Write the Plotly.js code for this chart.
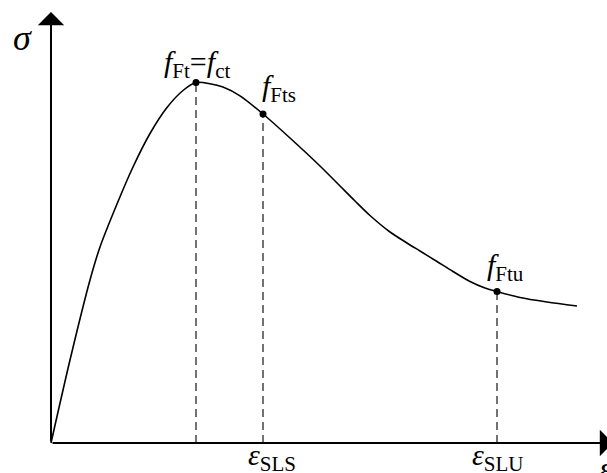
<!DOCTYPE html>
<html>
<head>
<meta charset="utf-8">
<script src="https://cdn.plot.ly/plotly-3.0.1.min.js"></script>
<style>html,body{margin:0;padding:0;background:#fff;}</style>
</head>
<body>
<div id="chart" style="width:607px;height:473px;"></div>
<script>
// Stress-strain curve (arbitrary units)
const strain = [0, 1.9, 3.9, 4.9, 6.6, 8.2, 9.9, 11.6, 13.2, 14.5, 15.9, 17.2, 18.9, 21.2, 23.9, 26.9, 28.9, 30.4, 31.9, 33.9, 35.6, 36.9, 38.6, 40.2, 41.9, 43.4, 44.6, 46.9, 49.6, 52.6];
const stress = [0, 8.3, 16.3, 19.6, 23.9, 27.6, 30.95, 33.55, 35.25, 36.05, 35.93, 35.59, 34.71, 32.9, 30.5, 27.7, 25.7, 24.2, 22.75, 21.1, 20.0, 19.2, 18.15, 17.15, 16.15, 15.5, 15.15, 14.55, 14.1, 13.7];
// Key points: f_Ft = f_ct, f_Fts, f_Ftu
const keyStrain = [14.5, 21.2, 44.6];
const keyStress = [36.05, 32.9, 15.15];
const keyLabels = ['<i>f</i><sub>Ft</sub>=<i>f</i><sub>ct</sub>', '<i>f</i><sub>Fts</sub>', '<i>f</i><sub>Ftu</sub>'];
const strainLabels = ['<i>ε</i><sub>SLS</sub>', '<i>ε</i><sub>SLU</sub>'];

const FONT = 'Liberation Serif, Times New Roman, serif';

const traces = [];
// dashed drop lines
keyStrain.forEach((x, i) => {
  traces.push({x: [x, x], y: [0, keyStress[i]], mode: 'lines',
    line: {color: '#000', width: 1.1, dash: '8px,5px'}, hoverinfo: 'skip', showlegend: false});
});
traces.push({x: strain, y: stress, mode: 'lines', line: {color: '#000', width: 1.6, shape: 'spline', smoothing: 0.8}, showlegend: false});
traces.push({x: keyStrain, y: keyStress, mode: 'markers', marker: {color: '#000', size: 7}, showlegend: false});

const annotations = [
  // axes arrows
  {x: 56.2, y: 0, ax: 0, ay: 0, xref: 'x', yref: 'y', axref: 'x', ayref: 'y', showarrow: true, arrowhead: 1, arrowsize: 2.2, arrowwidth: 2, arrowcolor: '#000', text: ''},
  {x: 0, y: 43.1, ax: 0, ay: 0, xref: 'x', yref: 'y', axref: 'x', ayref: 'y', showarrow: true, arrowhead: 1, arrowsize: 2.2, arrowwidth: 2, arrowcolor: '#000', text: ''},
  // axis symbols
  {x: -2.9, y: 40.5, xref: 'x', yref: 'y', showarrow: false, text: '<i>σ</i>', font: {family: FONT, size: 36, color: '#000'}},
  {x: 54.6, y: -2.5, xref: 'x', yref: 'y', showarrow: false, xanchor: 'left', text: '<i>ε</i>', font: {family: FONT, size: 34, color: '#000'}},
  // point labels
  {x: 14.6, y: 37.9, xref: 'x', yref: 'y', showarrow: false, text: keyLabels[0], font: {family: FONT, size: 30, color: '#000'}},
  {x: 22.8, y: 35.5, xref: 'x', yref: 'y', showarrow: false, text: keyLabels[1], font: {family: FONT, size: 30, color: '#000'}},
  {x: 45.4, y: 17.6, xref: 'x', yref: 'y', showarrow: false, text: keyLabels[2], font: {family: FONT, size: 30, color: '#000'}},
  // strain labels
  {x: 22.1, y: -1.4, xref: 'x', yref: 'y', showarrow: false, text: strainLabels[0], font: {family: FONT, size: 30, color: '#000'}},
  {x: 44.7, y: -1.4, xref: 'x', yref: 'y', showarrow: false, text: strainLabels[1], font: {family: FONT, size: 30, color: '#000'}}
];

const layout = {
  width: 607, height: 473,
  margin: {l: 0, r: 0, t: 0, b: 0},
  paper_bgcolor: '#fff', plot_bgcolor: '#fff',
  xaxis: {range: [-5.1, 55.6], visible: false, fixedrange: true},
  yaxis: {range: [-3.0, 44.3], visible: false, fixedrange: true},
  annotations: annotations,
  showlegend: false
};

Plotly.newPlot('chart', traces, layout, {displayModeBar: false, staticPlot: true});
</script>
</body>
</html>
